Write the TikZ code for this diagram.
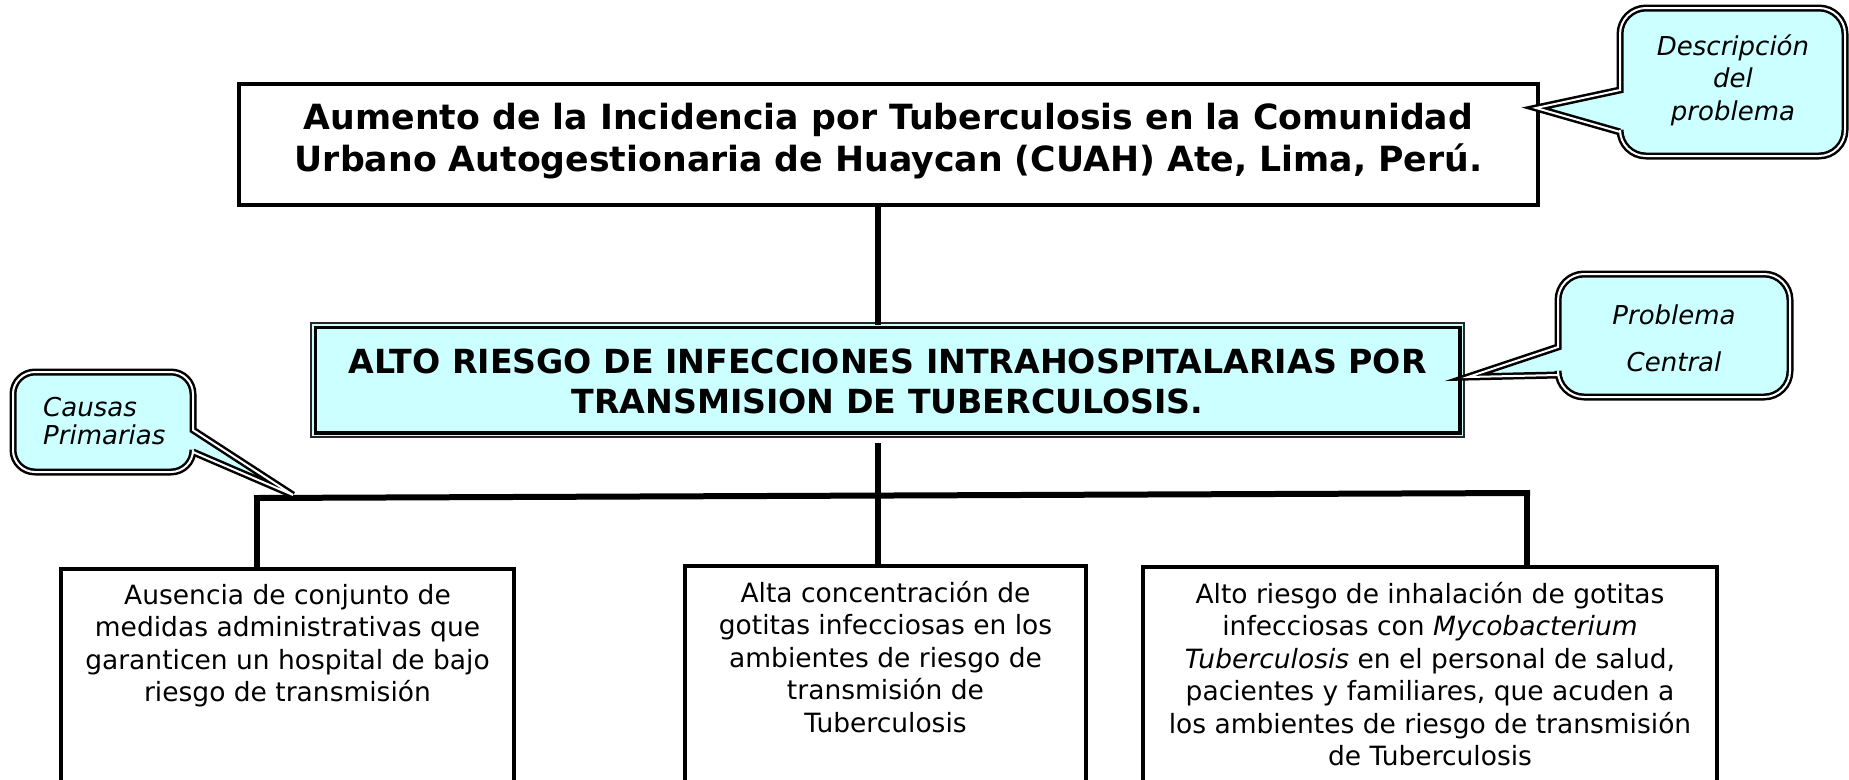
\documentclass[tikz,border=0pt]{standalone}
\usepackage{fontspec}
\setmainfont{DejaVu Sans}
\definecolor{cyanfill}{HTML}{CCFFFF}
\tikzset{
  conn/.style={line width=6pt, line cap=rect},
  plainbox/.style={draw, line width=4pt, inner sep=0pt, fill=white},
  callout/.style={draw=black, line width=2.5pt, double=white, double distance=2pt, fill=cyanfill},
  ctext/.style={font=\fontsize{26}{32.5}\selectfont\itshape, inner sep=0pt},
  btext/.style={font=\fontsize{26.5}{32.5}\selectfont, align=center, inner sep=0pt, anchor=north},
  htext/.style={font=\fontsize{34.7}{42}\selectfont\bfseries, align=center, inner sep=0pt},
}
\begin{document}
\begin{tikzpicture}[x=1pt,y=-1pt]
\useasboundingbox (0,0) rectangle (1849,779);
\clip (0,0) rectangle (1849,779);
% main boxes
\node[plainbox, minimum width=1299pt, minimum height=121pt] (top) at (888.5,144.5) {};
\node[htext] (toptext) at ([yshift=3pt]top.center) {Aumento de la Incidencia por Tuberculosis en la Comunidad\\Urbano Autogestionaria de Huaycan (CUAH) Ate, Lima, Perú.};
\node[draw=black!85, line width=1.5pt, fill=cyanfill, minimum width=1153pt, minimum height=114pt, inner sep=0pt] (central) at (887.5,380) {};
\draw[line width=3.5pt] ([shift={(5,5)}]central.north west) rectangle ([shift={(-5,-5)}]central.south east);
\node[htext, font=\fontsize{33.2}{40}\selectfont\bfseries] (centraltext) at ([yshift=-1pt]central.center) {ALTO RIESGO DE INFECCIONES INTRAHOSPITALARIAS POR\\TRANSMISION DE TUBERCULOSIS.};
% bottom boxes
\node[plainbox, anchor=north, minimum width=453pt, minimum height=260pt] (b1) at (287.5,567) {};
\node[plainbox, anchor=north, minimum width=401pt, minimum height=260pt] (b2) at (885.5,564) {};
\node[plainbox, anchor=north, minimum width=574pt, minimum height=260pt] (b3) at (1430,565) {};
\node[btext] (b1t) at ([yshift=-17pt]b1.north) {Ausencia de conjunto de\\medidas administrativas que\\garanticen un hospital de bajo\\riesgo de transmisión};
\node[btext] (b2t) at ([yshift=-17pt]b2.north) {Alta concentración de\\gotitas infecciosas en los\\ambientes de riesgo de\\transmisión de\\Tuberculosis};
\node[btext] (b3t) at ([yshift=-17pt]b3.north) {Alto riesgo de inhalación de gotitas\\infecciosas con \textit{Mycobacterium}\\\textit{Tuberculosis} en el personal de salud,\\pacientes y familiares, que acuden a\\los ambientes de riesgo de transmisión\\de Tuberculosis};
% connectors
\coordinate (cx) at (878,0);
\coordinate (hl) at (257,498);
\coordinate (hr) at (1527,493);
\draw[conn] (top.south -| cx) -- (central.north -| cx);
\draw[conn] ([yshift=-8pt]central.south -| cx) -- (b2.north -| cx);
\draw[conn] (hl) -- (hr);
\draw[conn] (hl) -- (b1.north -| hl);
\draw[conn] (hr) -- (b3.north -| hr);
% callouts
\draw[callout] (1733,8) [rounded corners=26] -- (1845,8) -- (1845,156) -- (1620,156) [sharp corners] -- (1620,132) -- (1536,108) -- (1620,90) [rounded corners=26] -- (1620,8) -- cycle;
\node[ctext, align=center] (cd) at (1733,80) {Descripción\\del\\problema};
\draw[callout] (1674,274) [rounded corners=26] -- (1790,274) -- (1790,397) -- (1558,397) [sharp corners] -- (1558,375) -- (1468,377) -- (1558,347) [rounded corners=26] -- (1558,274) -- cycle;
\node[ctext, align=center, font=\fontsize{26}{47}\selectfont\itshape] (cp) at (1674,338) {Problema\\Central};
\draw[callout] (100,372) [rounded corners=22] -- (193,372) [sharp corners] -- (193,430) -- (293,495) -- (193,452) [rounded corners=22] -- (193,472) -- (13,472) -- (13,372) -- cycle;
\node[ctext, align=left, anchor=west, font=\fontsize{26}{28}\selectfont\itshape] (cc) at (43,421) {Causas\\Primarias};
\end{tikzpicture}
\end{document}
